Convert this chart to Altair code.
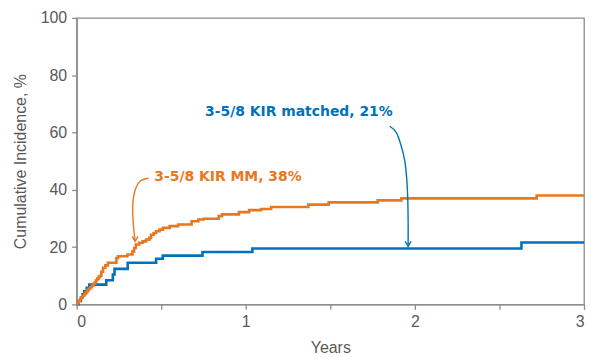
import altair as alt
import pandas as pd

# ---- data ----
series_names = ["3-5/8 KIR MM", "3-5/8 KIR matched"]
series_colors = ["#E87722", "#0072BC"]

mm_years = [0, 0.005, 0.012, 0.02, 0.028, 0.035, 0.045, 0.055, 0.062, 0.07, 0.08, 0.09,
            0.1, 0.108, 0.115, 0.122, 0.13, 0.136, 0.146, 0.156, 0.17, 0.185, 0.235,
            0.245, 0.3, 0.33, 0.34, 0.35, 0.37, 0.39, 0.41, 0.43, 0.44, 0.455, 0.47,
            0.49, 0.51, 0.55, 0.6, 0.68, 0.72, 0.75, 0.84, 0.86, 0.96, 1.02, 1.09,
            1.15, 1.37, 1.49, 1.78, 1.92, 2.72, 3.0]
mm_pct = [0, 0.6, 1.2, 1.8, 2.4, 3.0, 3.6, 4.2, 4.8, 5.4, 6.0, 6.6,
          7.2, 7.8, 8.4, 9.0, 9.6, 9.9, 11.4, 12.8, 13.6, 14.5, 16.2,
          16.8, 17.4, 18.5, 19.7, 20.9, 21.5, 22.0, 22.6, 23.2, 24.3, 24.9, 25.5,
          26.1, 26.7, 27.3, 27.9, 29.0, 29.6, 29.9, 30.8, 31.4, 32.2, 32.9, 33.3,
          34.0, 34.8, 35.6, 36.3, 37.0, 38.0, 38.0]

matched_years = [0, 0.01, 0.025, 0.035, 0.045, 0.06, 0.075, 0.175, 0.214, 0.224,
                 0.302, 0.47, 0.509, 0.744, 1.039, 2.63, 3.0]
matched_pct = [0, 1.2, 2.4, 3.5, 4.6, 5.8, 6.9, 8.4, 10.4, 12.4,
               14.5, 15.9, 17.0, 18.3, 19.5, 21.6, 21.6]

y_tick_values = [0, 10, 20, 30, 40, 50, 60, 70, 80, 90, 100]
x_tick_values = [0, 0.5, 1, 1.5, 2, 2.5, 3]

label_texts = ["3-5/8 KIR MM, 38%", "3-5/8 KIR matched, 21%"]
label_years = [0.459, 0.759]
label_pct = [44.3, 67.1]

arrow_mm_years = [0.4255, 0.3767, 0.3502, 0.3355, 0.3314, 0.3355, 0.3455]
arrow_mm_pct = [44.0, 43.06, 40.63, 37.15, 32.99, 27.78, 21.98]
arrow_matched_years = [1.8523, 1.8893, 1.9205, 1.9394, 1.95, 1.957, 1.960, 1.960]
arrow_matched_pct = [62.15, 60.07, 54.97, 50.35, 45.14, 38.19, 29.51, 20.24]

# ---- tables ----
curves = pd.concat([
    pd.DataFrame({"years": matched_years, "pct": matched_pct, "series": series_names[1]}),
    pd.DataFrame({"years": mm_years, "pct": mm_pct, "series": series_names[0]}),
])
labels = pd.DataFrame({"years": label_years, "pct": label_pct, "text": label_texts,
                       "series": series_names})
arrows = pd.concat([
    pd.DataFrame({"years": arrow_mm_years, "pct": arrow_mm_pct, "series": series_names[0],
                  "k": list(range(len(arrow_mm_years)))}),
    pd.DataFrame({"years": arrow_matched_years, "pct": arrow_matched_pct, "series": series_names[1],
                  "k": list(range(len(arrow_matched_years)))}),
])
tips = pd.DataFrame({"years": [arrow_mm_years[-1], arrow_matched_years[-1]],
                     "pct": [arrow_mm_pct[-1], arrow_matched_pct[-1]],
                     "series": series_names})

color_scale = alt.Scale(domain=series_names, range=series_colors)
x_scale = alt.Scale(domain=[0, 3], nice=False)
y_scale = alt.Scale(domain=[0, 100], nice=False)

x_enc = alt.X("years:Q", scale=x_scale, axis=alt.Axis(
    title="Years", values=x_tick_values,
    labelExpr="datum.value % 1 == 0 ? format(datum.value, 'd') : ''",
    titleY=35, titleBaseline="top", labelPadding=4))
y_enc = alt.Y("pct:Q", scale=y_scale, axis=alt.Axis(
    title="Cumulative Incidence, %", values=y_tick_values,
    labelExpr="datum.value % 20 == 0 ? format(datum.value, 'd') : ''",
    titleX=-56, titleY=144, titleBaseline="middle", labelPadding=5))

lines = alt.Chart(curves).mark_line(interpolate="step-after", strokeWidth=2.6).encode(
    x=x_enc, y=y_enc,
    color=alt.Color("series:N", scale=color_scale, legend=None),
    detail="series:N", order="years:Q")

arrow_lines = alt.Chart(arrows).mark_line(interpolate="catmull-rom", strokeWidth=1.4).encode(
    x="years:Q", y="pct:Q",
    color=alt.Color("series:N", scale=color_scale, legend=None),
    detail="series:N", order="k:Q")

arrow_heads = alt.Chart(tips).mark_point(
    shape="M-0.6,-1L0,0L0.6,-1", filled=False, size=100, strokeWidth=1.4, opacity=1).encode(
    x="years:Q", y="pct:Q",
    color=alt.Color("series:N", scale=color_scale, legend=None))

texts = alt.Chart(labels).mark_text(
    align="left", baseline="middle", font="DejaVu Sans", fontWeight="bold", fontSize=14).encode(
    x="years:Q", y="pct:Q", text="text:N",
    color=alt.Color("series:N", scale=color_scale, legend=None))

chart = alt.layer(lines, arrow_lines, arrow_heads, texts).properties(
    width=510, height=288,
    autosize=alt.AutoSizeParams(type="none"),
    padding={"left": 69, "top": 9, "right": 2, "bottom": 53},
    background="white",
).configure_view(
    stroke="#8c8c8c", strokeWidth=1.3
).configure_axis(
    grid=False,
    domainColor="#8c8c8c", domainWidth=1.5,
    tickColor="#8c8c8c", tickSize=5, tickWidth=1.3,
    labelFont="Liberation Sans", labelFontSize=16, labelColor="#595959",
    titleFont="Liberation Sans", titleFontSize=16, titleColor="#595959",
    titleFontWeight="normal",
)

chart.save("out.html", embed_options={"renderer": "svg", "actions": False})
